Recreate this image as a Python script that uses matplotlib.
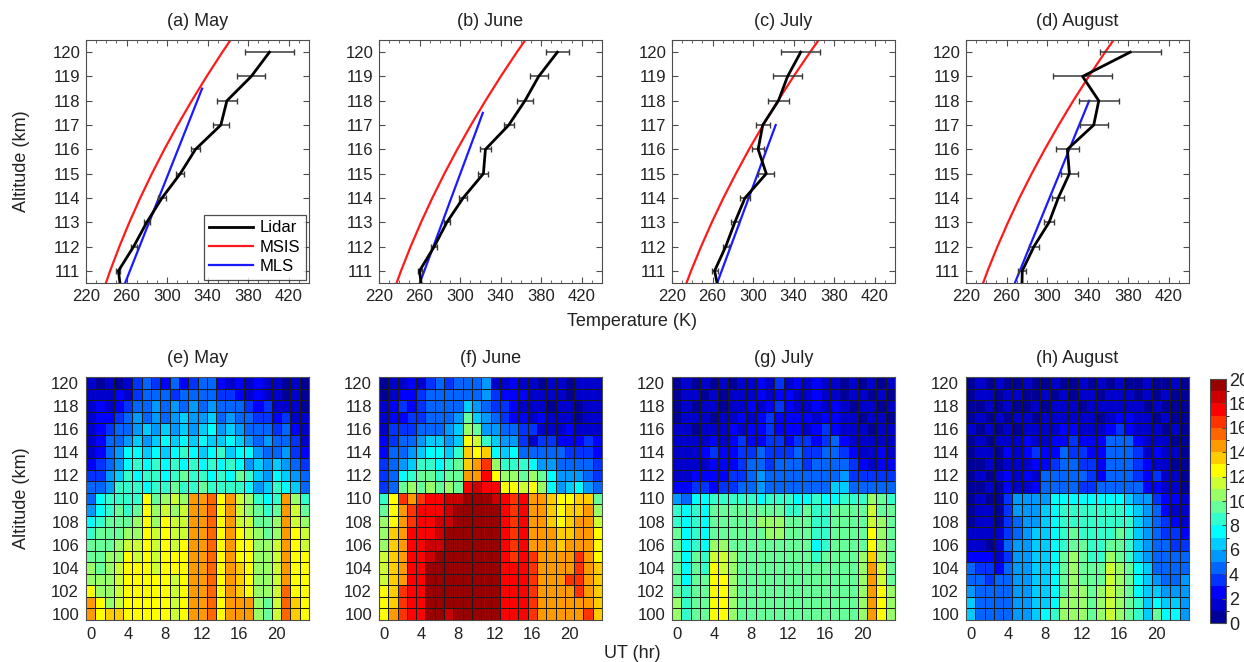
import numpy as np
import matplotlib
matplotlib.use("Agg")
import matplotlib.pyplot as plt
from matplotlib.colors import ListedColormap, BoundaryNorm
from matplotlib.ticker import MultipleLocator

plt.rcParams['font.family'] = ['Liberation Sans', 'DejaVu Sans']

# ---------------- temperature profiles ----------------
months = ['May', 'June', 'July', 'August']
top_tags = ['(a)', '(b)', '(c)', '(d)']
bottom_tags = ['(e)', '(f)', '(g)', '(h)']

lidar_alt = [110, 111, 112, 113, 114, 115, 116, 117, 118, 119, 120]
lidar_may = [255, 252, 267, 280, 295, 313, 328, 353, 359, 383, 401]
lidar_jun = [263, 260, 274.5, 287, 303, 323, 325, 348, 364, 377.5, 396]
lidar_jul = [267, 262, 273, 282, 292, 313, 305, 309.5, 325, 334, 347]
lidar_aug = [275, 275.5, 287, 302, 311, 322, 320, 346, 351, 335, 382]
err_may = [2, 2, 3, 3, 4, 4, 4, 8, 10, 14, 24]
err_jun = [2, 2, 3, 3, 4, 5, 5, 5, 8, 9, 11]
err_jul = [3, 3, 3, 4, 5, 8, 6, 7, 10, 14, 19]
err_aug = [4, 4, 5, 5, 6, 8, 11, 14, 20, 29, 30]

msis_alt = [110, 111, 112, 113, 114, 115, 116, 117, 118, 119, 120, 121]
msis_may = [235.5, 243.8, 252.9, 262.8, 273.5, 285.0, 297.3, 310.4, 324.3, 339.0, 354.5, 370.8]
msis_jun = [233.0, 241.7, 251.2, 261.5, 272.6, 284.5, 297.2, 310.7, 325.0, 340.1, 356.0, 372.7]
msis_jul = [229.8, 238.8, 248.7, 259.3, 270.7, 283.0, 296.0, 309.9, 324.5, 339.9, 356.2, 373.2]
msis_aug = [232.5, 241.3, 251.0, 261.5, 272.7, 284.8, 297.7, 311.4, 325.8, 341.1, 357.2, 374.0]

mls_alt_may = [110, 111, 112, 113, 114, 115, 116, 117, 118, 118.5]
mls_may = [253.9, 263.3, 272.8, 282.3, 291.8, 301.3, 310.8, 320.3, 329.8, 334.5]
mls_alt_jun = [110, 111, 112, 113, 114, 115, 116, 117, 117.5]
mls_jun = [255.9, 264.7, 273.6, 282.5, 291.3, 300.2, 309.1, 318.0, 322.4]
mls_alt_jul = [110, 111, 112, 113, 114, 115, 116, 117]
mls_jul = [260.2, 269.0, 277.9, 286.8, 295.7, 304.6, 313.4, 322.3]
mls_alt_aug = [110, 111, 112, 113, 114, 115, 116, 117, 118]
mls_aug = [263.3, 273.1, 282.8, 292.6, 302.4, 312.2, 321.9, 331.7, 341.5]

# ---------------- UT-altitude occurrence maps (rows: 120 km down to 100 km) ----------------
ut_hours = list(range(24))
map_alt = list(range(120, 99, -1))

rate_may = [
    [1, 0, 1, 0, 1, 3, 4, 3, 2, 4, 2, 3, 4, 4, 2, 1, 2, 1, 2, 1, 1, 0, 1, 0],
    [1, 1, 1, 2, 1, 3, 4, 4, 4, 3, 4, 4, 4, 4, 3, 3, 2, 1, 2, 1, 1, 0, 1, 0],
    [1, 2, 1, 2, 3, 4, 4, 5, 4, 5, 4, 5, 4, 5, 4, 4, 4, 3, 2, 3, 1, 1, 1, 0],
    [1, 2, 2, 3, 4, 5, 4, 5, 4, 5, 6, 5, 5, 6, 4, 5, 4, 4, 3, 3, 2, 3, 1, 1],
    [1, 2, 3, 4, 4, 5, 6, 5, 6, 5, 6, 5, 6, 7, 5, 6, 5, 4, 4, 4, 3, 4, 2, 1],
    [1, 2, 4, 4, 5, 6, 5, 6, 7, 6, 7, 6, 7, 6, 6, 7, 6, 5, 4, 5, 4, 4, 3, 1],
    [1, 2, 4, 5, 7, 7, 6, 7, 6, 7, 8, 7, 6, 7, 8, 6, 7, 7, 5, 4, 4, 5, 3, 2],
    [2, 3, 4, 5, 7, 8, 7, 8, 7, 8, 7, 8, 7, 8, 7, 8, 7, 5, 6, 5, 6, 5, 4, 3],
    [3, 3, 5, 6, 8, 7, 8, 8, 7, 8, 9, 8, 8, 7, 8, 7, 9, 8, 6, 5, 7, 6, 5, 4],
    [4, 4, 5, 8, 8, 8, 7, 8, 8, 9, 8, 8, 9, 8, 8, 8, 8, 7, 5, 6, 8, 7, 6, 4],
    [4, 7, 8, 8, 8, 8, 12, 9, 10, 11, 10, 14, 14, 15, 12, 14, 11, 10, 8, 7, 8, 14, 10, 8],
    [5, 7, 8, 9, 8, 9, 12, 10, 11, 10, 11, 14, 14, 15, 12, 14, 11, 10, 9, 8, 9, 14, 11, 9],
    [7, 8, 9, 9, 9, 10, 12, 10, 12, 11, 11, 14, 14, 15, 12, 14, 11, 11, 9, 9, 10, 14, 11, 10],
    [8, 9, 9, 9, 10, 10, 12, 11, 12, 11, 11, 14, 14, 15, 12, 14, 12, 11, 10, 9, 10, 14, 12, 11],
    [9, 9, 9, 10, 11, 11, 12, 11, 12, 11, 12, 14, 14, 15, 12, 14, 12, 12, 10, 10, 11, 14, 12, 11],
    [9, 9, 10, 10, 12, 11, 12, 11, 12, 12, 12, 14, 14, 15, 12, 14, 12, 12, 10, 10, 11, 14, 12, 12],
    [10, 9, 10, 11, 12, 12, 12, 11, 12, 12, 12, 14, 14, 15, 12, 14, 13, 12, 10, 10, 11, 14, 12, 12],
    [10, 10, 10, 11, 12, 12, 12, 12, 12, 11, 12, 14, 14, 15, 12, 14, 13, 12, 10, 10, 11, 14, 12, 12],
    [12, 10, 10, 11, 12, 12, 12, 12, 12, 11, 12, 14, 14, 15, 12, 14, 13, 12, 10, 10, 11, 15, 12, 12],
    [14, 12, 10, 11, 12, 12, 12, 12, 12, 11, 12, 14, 14, 15, 12, 14, 14, 14, 10, 9, 11, 15, 13, 12],
    [14, 12, 13, 13, 12, 12, 12, 12, 12, 11, 12, 14, 14, 15, 12, 14, 14, 14, 10, 9, 11, 15, 13, 12],
]

rate_jun = [
    [0, 1, 1, 2, 1, 3, 4, 3, 4, 4, 4, 5, 1, 1, 2, 1, 1, 0, 1, 1, 0, 1, 1, 1],
    [0, 1, 2, 2, 3, 4, 4, 4, 4, 4, 4, 5, 3, 2, 2, 2, 1, 1, 1, 1, 0, 1, 1, 1],
    [1, 2, 3, 2, 3, 4, 4, 4, 4, 6, 5, 4, 3, 3, 2, 1, 1, 1, 0, 1, 1, 0, 1, 1],
    [1, 2, 2, 3, 3, 4, 4, 4, 5, 9, 6, 5, 4, 3, 2, 2, 1, 2, 1, 1, 1, 0, 1, 1],
    [1, 3, 3, 3, 4, 4, 4, 5, 6, 10, 9, 5, 5, 4, 4, 3, 3, 1, 1, 1, 2, 1, 1, 1],
    [2, 3, 4, 4, 5, 6, 6, 5, 6, 12, 11, 8, 6, 5, 5, 3, 1, 3, 3, 2, 2, 2, 3, 2],
    [2, 4, 4, 5, 6, 7, 7, 6, 8, 13, 12, 13, 7, 6, 7, 4, 4, 4, 4, 4, 3, 3, 3, 2],
    [3, 4, 5, 6, 8, 8, 7, 8, 9, 13, 14, 16, 10, 8, 8, 8, 7, 5, 5, 4, 4, 4, 4, 3],
    [3, 4, 7, 8, 9, 9, 8, 9, 9, 14, 14, 17, 12, 10, 10, 9, 10, 9, 7, 5, 5, 5, 4, 3],
    [3, 4, 9, 10, 9, 10, 9, 10, 9, 17, 18, 17, 17, 12, 12, 11, 12, 10, 7, 5, 6, 7, 5, 4],
    [8, 12, 16, 14, 16, 17, 17, 18, 18, 19, 19, 19, 18, 17, 16, 17, 14, 14, 13, 12, 12, 13, 13, 9],
    [9, 12, 14, 16, 17, 17, 17, 18, 19, 19, 19, 19, 19, 17, 16, 17, 14, 14, 13, 12, 13, 13, 14, 10],
    [10, 12, 14, 16, 17, 17, 18, 18, 19, 19, 19, 19, 19, 17, 16, 17, 14, 14, 13, 12, 13, 14, 14, 11],
    [10, 13, 14, 17, 17, 17, 18, 19, 19, 19, 19, 19, 19, 17, 16, 17, 14, 14, 14, 13, 13, 14, 14, 12],
    [10, 13, 14, 17, 17, 18, 18, 19, 19, 19, 19, 19, 19, 17, 16, 17, 14, 14, 14, 13, 14, 14, 14, 12],
    [11, 13, 14, 17, 17, 18, 19, 19, 19, 19, 19, 19, 19, 17, 16, 17, 16, 14, 14, 14, 14, 16, 14, 12],
    [11, 13, 14, 17, 17, 19, 19, 19, 19, 19, 19, 19, 19, 17, 17, 17, 16, 14, 14, 14, 14, 16, 14, 13],
    [11, 13, 14, 17, 17, 19, 19, 19, 19, 19, 19, 19, 19, 17, 17, 17, 16, 14, 14, 14, 16, 16, 14, 13],
    [12, 13, 16, 17, 17, 19, 19, 19, 19, 19, 19, 19, 19, 17, 17, 17, 16, 14, 14, 14, 14, 16, 14, 13],
    [12, 13, 16, 17, 17, 19, 19, 19, 19, 19, 19, 19, 19, 17, 17, 17, 16, 14, 14, 14, 14, 14, 14, 13],
    [12, 14, 16, 17, 17, 19, 19, 18, 19, 19, 19, 19, 19, 17, 17, 17, 16, 14, 14, 14, 14, 14, 16, 13],
]

rate_jul = [
    [0, 1, 0, 1, 0, 1, 0, 1, 1, 2, 1, 3, 1, 2, 1, 2, 1, 1, 0, 1, 0, 1, 0, 1],
    [0, 1, 1, 0, 1, 0, 1, 1, 1, 2, 1, 2, 2, 1, 1, 2, 1, 1, 0, 1, 1, 0, 1, 0],
    [0, 1, 0, 1, 1, 0, 1, 1, 2, 1, 2, 3, 2, 1, 1, 2, 1, 2, 1, 0, 1, 1, 0, 1],
    [0, 1, 1, 1, 0, 1, 1, 2, 1, 2, 3, 2, 2, 2, 2, 1, 2, 2, 1, 1, 0, 1, 1, 0],
    [1, 1, 0, 1, 1, 1, 2, 1, 2, 2, 3, 2, 2, 2, 1, 2, 3, 2, 1, 1, 1, 0, 1, 1],
    [1, 1, 1, 1, 2, 1, 2, 3, 2, 2, 3, 3, 2, 3, 3, 2, 3, 4, 2, 1, 1, 1, 1, 1],
    [1, 1, 1, 2, 3, 2, 2, 3, 3, 4, 3, 3, 3, 4, 3, 3, 4, 4, 3, 2, 1, 1, 2, 1],
    [1, 1, 1, 1, 2, 2, 2, 3, 4, 4, 3, 4, 4, 4, 3, 4, 4, 4, 4, 3, 2, 1, 2, 2],
    [1, 1, 2, 2, 2, 2, 3, 3, 4, 5, 4, 4, 4, 4, 4, 4, 4, 4, 5, 3, 3, 3, 3, 3],
    [2, 2, 3, 3, 2, 3, 3, 4, 4, 5, 4, 4, 4, 4, 4, 4, 4, 6, 6, 4, 4, 4, 4, 4],
    [5, 4, 7, 7, 8, 8, 8, 8, 8, 7, 8, 8, 8, 7, 7, 8, 7, 7, 8, 8, 8, 10, 9, 8],
    [8, 7, 8, 7, 9, 9, 9, 9, 9, 9, 9, 9, 8, 8, 9, 8, 8, 9, 9, 9, 9, 11, 9, 9],
    [8, 7, 8, 7, 9, 9, 9, 9, 9, 10, 10, 10, 9, 9, 9, 8, 8, 9, 9, 9, 9, 11, 10, 9],
    [9, 7, 8, 7, 9, 9, 9, 9, 9, 9, 10, 10, 9, 9, 9, 8, 8, 9, 9, 9, 9, 12, 10, 9],
    [9, 7, 8, 7, 10, 10, 9, 9, 9, 9, 9, 9, 9, 9, 9, 7, 8, 9, 9, 9, 9, 12, 10, 9],
    [9, 7, 9, 8, 11, 11, 10, 9, 9, 9, 9, 9, 9, 9, 9, 8, 9, 9, 9, 9, 10, 13, 10, 9],
    [9, 7, 9, 8, 12, 11, 10, 9, 9, 9, 9, 9, 9, 9, 9, 9, 9, 9, 9, 9, 10, 14, 11, 9],
    [9, 7, 9, 9, 12, 12, 10, 9, 9, 9, 9, 9, 9, 9, 9, 9, 9, 9, 9, 9, 10, 14, 11, 9],
    [9, 8, 9, 9, 12, 12, 10, 9, 9, 9, 9, 9, 9, 9, 9, 9, 9, 9, 9, 9, 10, 14, 12, 10],
    [10, 8, 9, 9, 12, 12, 10, 9, 9, 9, 9, 9, 9, 9, 9, 9, 9, 9, 9, 9, 10, 14, 12, 10],
    [10, 8, 9, 9, 12, 12, 10, 9, 9, 9, 9, 9, 9, 9, 9, 9, 9, 9, 9, 9, 10, 14, 12, 10],
]

rate_aug = [
    [0, 1, 0, 1, 0, 0, 1, 0, 0, 1, 0, 0, 1, 0, 1, 0, 1, 0, 0, 1, 0, 0, 1, 0],
    [0, 1, 1, 0, 1, 1, 0, 0, 1, 0, 1, 0, 1, 1, 0, 1, 1, 1, 0, 1, 0, 1, 0, 0],
    [0, 0, 1, 0, 1, 0, 0, 1, 0, 1, 1, 1, 0, 1, 1, 1, 1, 1, 1, 0, 1, 0, 0, 0],
    [0, 1, 0, 1, 0, 1, 1, 0, 1, 1, 1, 1, 1, 1, 0, 1, 2, 2, 1, 1, 0, 1, 0, 0],
    [1, 0, 1, 0, 1, 0, 1, 1, 1, 1, 2, 2, 1, 1, 1, 2, 3, 2, 1, 1, 1, 0, 1, 0],
    [0, 1, 0, 1, 1, 1, 2, 1, 1, 2, 2, 3, 2, 2, 2, 4, 4, 4, 2, 1, 1, 1, 0, 0],
    [0, 1, 1, 0, 2, 1, 2, 3, 2, 2, 4, 3, 3, 2, 2, 4, 4, 4, 3, 1, 2, 1, 1, 0],
    [0, 0, 1, 0, 1, 1, 1, 2, 2, 3, 4, 4, 3, 3, 2, 4, 4, 4, 3, 2, 1, 1, 0, 0],
    [0, 1, 0, 1, 2, 1, 2, 1, 4, 4, 4, 4, 4, 3, 2, 4, 4, 4, 3, 2, 3, 1, 1, 0],
    [0, 0, 1, 0, 2, 1, 1, 2, 4, 4, 4, 4, 3, 3, 4, 4, 4, 4, 4, 2, 2, 1, 1, 0],
    [0, 1, 0, 0, 3, 5, 5, 5, 5, 7, 7, 7, 7, 7, 7, 7, 7, 6, 5, 5, 3, 2, 2, 1],
    [0, 1, 1, 0, 3, 5, 5, 5, 6, 7, 8, 8, 8, 8, 8, 8, 8, 7, 6, 5, 4, 2, 1, 1],
    [0, 1, 1, 0, 3, 4, 5, 5, 6, 7, 8, 8, 8, 8, 8, 8, 8, 8, 6, 5, 4, 3, 2, 1],
    [1, 1, 1, 1, 3, 4, 5, 6, 6, 7, 8, 9, 8, 8, 8, 8, 9, 8, 6, 5, 4, 3, 3, 2],
    [1, 1, 0, 1, 4, 5, 5, 6, 6, 7, 8, 9, 9, 8, 8, 9, 9, 8, 6, 5, 4, 4, 3, 3],
    [2, 2, 2, 1, 3, 5, 5, 6, 6, 7, 9, 10, 9, 8, 8, 10, 9, 8, 6, 5, 4, 4, 4, 4],
    [4, 3, 3, 2, 4, 5, 5, 6, 6, 7, 9, 10, 9, 9, 9, 11, 10, 9, 7, 6, 4, 4, 4, 4],
    [4, 4, 3, 4, 4, 5, 5, 6, 6, 7, 9, 10, 9, 9, 9, 11, 10, 9, 7, 6, 5, 4, 4, 5],
    [5, 4, 4, 4, 4, 5, 5, 6, 6, 7, 9, 10, 10, 9, 10, 11, 10, 9, 7, 6, 6, 5, 5, 5],
    [6, 4, 4, 4, 4, 5, 5, 6, 6, 7, 10, 10, 10, 9, 10, 11, 10, 9, 8, 6, 7, 6, 6, 5],
    [6, 4, 4, 4, 4, 5, 5, 6, 7, 8, 10, 10, 10, 9, 10, 11, 10, 9, 8, 6, 9, 7, 7, 5],
]

# 20-step jet palette used for the occurrence maps
jet20 = [
    (0, 0, .6), (0, 0, .8), (0, 0, 1), (0, .2, 1), (0, .4, 1),
    (0, .6, 1), (0, .8, 1), (0, 1, 1), (.2, 1, .8), (.4, 1, .6),
    (.6, 1, .4), (.8, 1, .2), (1, 1, 0), (1, .8, 0), (1, .6, 0),
    (1, .4, 0), (1, .2, 0), (1, 0, 0), (.8, 0, 0), (.6, 0, 0),
]
cmap = ListedColormap(jet20)
norm = BoundaryNorm(np.arange(0, 21), cmap.N)

W, H = 1244, 662
fig = plt.figure(figsize=(W / 100, H / 100), dpi=100)

def fr(left, top, width, height):
    return [left / W, 1 - (top + height) / H, width / W, height / H]

lefts = [86, 379, 672, 966]
axw = 223
spine_c = '#4d4d4d'
text_c = '#222222'

def style_axes(ax):
    for s in ax.spines.values():
        s.set_color(spine_c)
        s.set_linewidth(0.8)
    ax.tick_params(axis='both', which='both', direction='in', top=True, right=True,
                   colors=spine_c, labelcolor=text_c, labelsize=12)

profiles = [
    (lidar_may, err_may, msis_may, mls_alt_may, mls_may),
    (lidar_jun, err_jun, msis_jun, mls_alt_jun, mls_jun),
    (lidar_jul, err_jul, msis_jul, mls_alt_jul, mls_jul),
    (lidar_aug, err_aug, msis_aug, mls_alt_aug, mls_aug),
]

for i, (lid, err, msis, malt, mls) in enumerate(profiles):
    ax = fig.add_axes(fr(lefts[i], 40, axw, 243))
    ax.plot(msis, msis_alt, color='#ff1a1a', lw=1.6, label='MSIS', zorder=2)
    ax.plot(mls, malt, color='#1a1aff', lw=1.6, label='MLS', zorder=2)
    ax.errorbar(lid, lidar_alt, xerr=err, fmt='none', ecolor='#3a3a3a',
                elinewidth=1.1, capsize=2.5, capthick=1.0, zorder=3)
    ax.plot(lid, lidar_alt, color='black', lw=2.0, label='Lidar', zorder=4)
    ax.set_xlim(220, 440)
    ax.set_ylim(110.5, 120.5)
    ax.set_xticks(np.arange(220, 421, 40))
    ax.xaxis.set_minor_locator(MultipleLocator(10))
    ax.set_yticks(np.arange(111, 121, 1))
    style_axes(ax)
    ax.tick_params(axis='both', which='major', length=4, pad=4)
    ax.tick_params(axis='x', which='minor', length=2)
    ax.set_title(f'{top_tags[i]} {months[i]}', fontsize=13, color=text_c, pad=10)
    if i == 0:
        h, l = ax.get_legend_handles_labels()
        order = [l.index('Lidar'), l.index('MSIS'), l.index('MLS')]
        leg = ax.legend([h[k] for k in order], [l[k] for k in order], loc='lower right',
                        fontsize=12, frameon=True, fancybox=False, borderaxespad=0.2,
                        handlelength=2.6, handletextpad=0.4, labelspacing=0.25,
                        borderpad=0.35)
        leg.get_frame().set_edgecolor('#222222')
        leg.get_frame().set_linewidth(0.9)

maps = [rate_may, rate_jun, rate_jul, rate_aug]
for i, grid in enumerate(maps):
    ax = fig.add_axes(fr(lefts[i], 377, axw, 243))
    z = np.array(grid, dtype=float) + 0.5
    mesh = ax.pcolormesh(ut_hours, map_alt, z, cmap=cmap, norm=norm, shading='nearest',
                         edgecolors='#1a1a1a', linewidth=0.6)
    ax.set_xlim(-0.5, 23.5)
    ax.set_ylim(99.5, 120.5)
    ax.set_xticks(np.arange(0, 21, 4))
    ax.set_yticks(np.arange(100, 121, 2))
    style_axes(ax)
    ax.tick_params(axis='both', which='major', length=0, pad=5)
    ax.set_title(f'{bottom_tags[i]} {months[i]}', fontsize=13, color=text_c, pad=10)

cax = fig.add_axes(fr(1210, 379, 16, 244))
cb = fig.colorbar(mesh, cax=cax, ticks=np.arange(0, 21, 2))
cb.ax.tick_params(labelsize=13, length=3, pad=2, direction='in', colors=spine_c, labelcolor=text_c)
cb.outline.set_edgecolor(spine_c)
cb.outline.set_linewidth(0.8)

fig.text(22 / W, 1 - 161 / H, 'Altitude (km)', ha='center', va='center', rotation=90,
         fontsize=13, color=text_c)
fig.text(22 / W, 1 - 498 / H, 'Altitude (km)', ha='center', va='center', rotation=90,
         fontsize=13, color=text_c)
fig.text(632 / W, 1 - 321 / H, 'Temperature (K)', ha='center', va='center', fontsize=13, color=text_c)
fig.text(632 / W, 1 - 653 / H, 'UT (hr)', ha='center', va='center', fontsize=13, color=text_c)

fig.savefig('out.png', dpi=100)
